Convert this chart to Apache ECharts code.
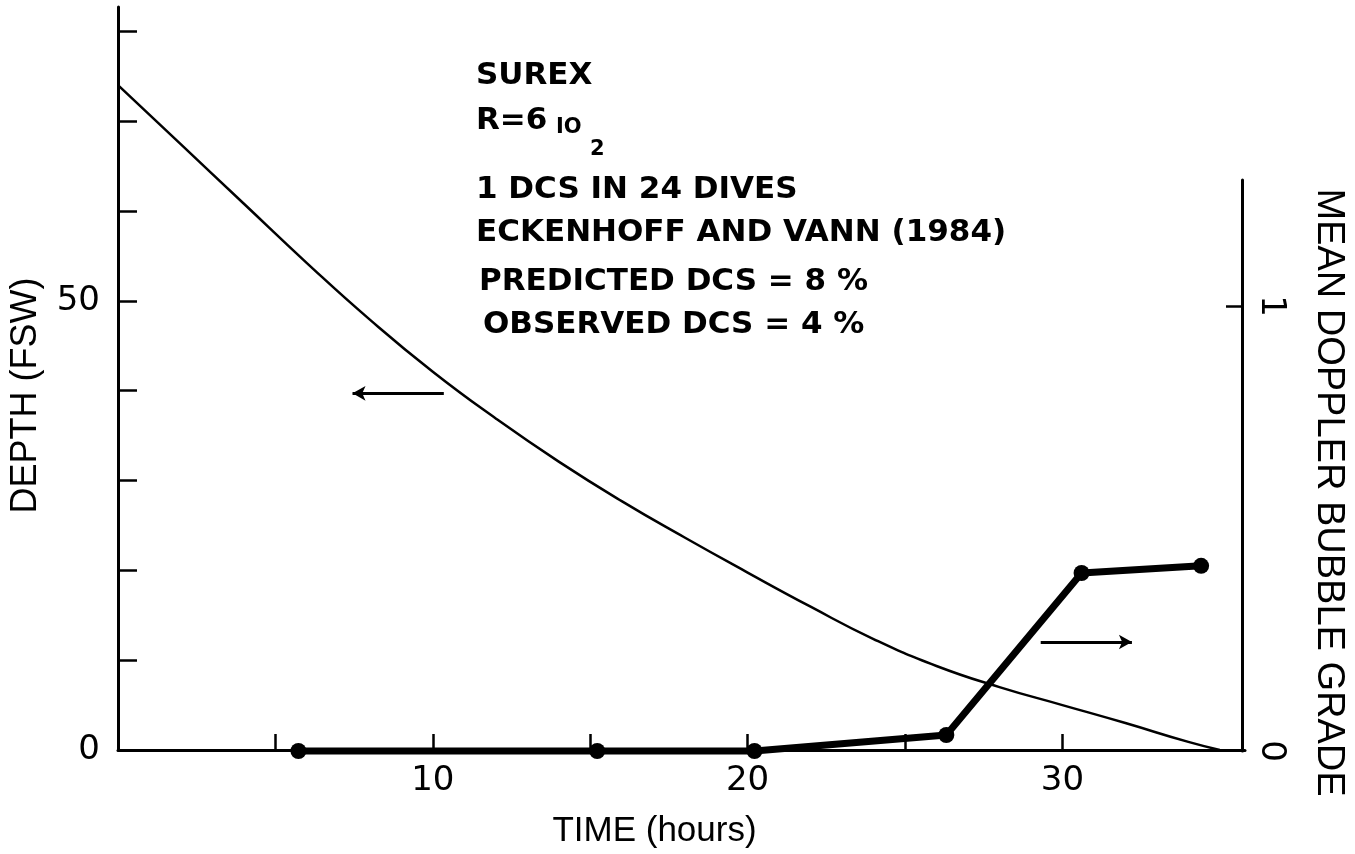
<!DOCTYPE html>
<html>
<head>
<meta charset="utf-8">
<script src="https://cdn.jsdelivr.net/npm/echarts@6/dist/echarts.min.js"></script>
<style>
  html, body { margin: 0; padding: 0; background: #fff; }
  #chart { width: 1355px; height: 854px; }
</style>
</head>
<body>
<div id="chart"></div>
<script>
// Decompression depth profile, feet of sea water (left axis)
const depthTime = [0, 2, 4, 6, 8, 10, 12, 14, 16, 18, 20, 22, 24, 26, 28, 30, 32, 34, 35];
const depthFsw  = [74, 67.4, 60.8, 54.2, 47.9, 42.1, 36.9, 32.1, 27.7, 23.65, 19.75, 15.95, 12.35, 9.35, 7.0, 5.0, 3.0, 0.9, 0];

// Mean Doppler bubble grade (right axis)
const bubbleTime  = [5.8, 15.3, 20.3, 26.4, 30.7, 34.5];
const bubbleGrade = [0, 0, 0, 0.036, 0.40, 0.416];

// Tick positions and labelled values
const timeTicks   = [5, 10, 15, 20, 25, 30];
const timeLabels  = [10, 20, 30];
const depthTicks  = [0, 10, 20, 30, 40, 50, 60, 70, 80];
const depthLabels = [0, 50];
const gradeTicks  = [1];
const gradeLabels = [0, 1];

// Direction arrows: which series reads on which axis
const depthArrow = [[10.35, 39.7], [7.45, 39.7]];
const gradeArrow = [[29.4, 0.245], [32.3, 0.245]];

// Annotation block
const noteLines = [
  'SUREX',
  'R=6',
  '1 DCS IN 24 DIVES',
  'ECKENHOFF AND VANN (1984)',
  'PREDICTED DCS = 8 %',
  'OBSERVED DCS = 4 %'
];
const noteSub = ['IO', '2'];

const INK = '#000';
const numFont = 'DejaVu Sans';
const nameFont = 'Liberation Sans';

const zip = (xs, ys) => xs.map((x, i) => [x, ys[i]]);

const chart = echarts.init(document.getElementById('chart'), null, { renderer: 'canvas' });

const noteY = [76, 121, 190, 233, 282, 325];
const noteX = [476, 476, 476, 476, 479, 483];
const noteFont = `bold 31px "${numFont}"`;
const graphic = noteLines.map((t, i) => ({
  type: 'text',
  x: noteX[i],
  y: noteY[i],
  style: { text: t, font: noteFont, fill: INK, verticalAlign: 'middle' }
}));
graphic.push({
  type: 'text', x: 556, y: 128,
  style: { text: noteSub[0], font: `bold 21px "${numFont}"`, fill: INK, verticalAlign: 'middle' }
});
graphic.push({
  type: 'text', x: 590, y: 150,
  style: { text: noteSub[1], font: `bold 21px "${numFont}"`, fill: INK, verticalAlign: 'middle' }
});

const axisLineStyle = { color: INK, width: 3 };

const option = {
  backgroundColor: '#fff',
  animation: false,
  graphic: graphic,
  grid: [
    { left: 116, right: 110, top: 7, bottom: 103 },
    { left: 116, right: 110, top: 180, bottom: 103 }
  ],
  xAxis: [
    {
      type: 'value', gridIndex: 0, min: 0, max: 35.8,
      name: 'TIME (hours)', nameLocation: 'middle', nameGap: 64,
      nameTextStyle: { fontFamily: nameFont, fontSize: 35, color: INK, padding: [0, 54, 0, 0] },
      axisLine: { show: true, lineStyle: axisLineStyle },
      axisTick: { show: true, inside: true, length: 16, customValues: timeTicks, lineStyle: { color: INK, width: 2.5 } },
      axisLabel: { show: true, customValues: timeLabels, margin: 14, fontFamily: numFont, fontSize: 34, color: INK },
      splitLine: { show: false }
    },
    {
      type: 'value', gridIndex: 1, min: 0, max: 35.8, show: false,
      splitLine: { show: false }
    }
  ],
  yAxis: [
    {
      type: 'value', gridIndex: 0, min: 0, max: 82.7, position: 'left',
      name: 'DEPTH (FSW)', nameLocation: 'middle', nameGap: 74,
      nameTextStyle: { fontFamily: nameFont, fontSize: 36, color: INK, padding: [0, 34, 0, 0] },
      axisLine: { show: true, onZero: false, lineStyle: axisLineStyle },
      axisTick: { show: true, inside: true, length: 19, customValues: depthTicks, lineStyle: { color: INK, width: 2.5 } },
      axisLabel: { show: true, customValues: depthLabels, margin: 18, fontFamily: numFont, fontSize: 34, color: INK },
      splitLine: { show: false }
    },
    {
      type: 'value', gridIndex: 1, min: 0, max: 1.283, position: 'right',
      name: 'MEAN DOPPLER BUBBLE GRADE', nameLocation: 'middle', nameGap: 67, nameRotate: -90,
      nameTextStyle: { fontFamily: nameFont, fontSize: 38, color: INK, padding: [0, 0, 0, 54] },
      axisLine: { show: true, onZero: false, lineStyle: axisLineStyle },
      axisTick: { show: true, inside: true, length: 16, customValues: gradeTicks, lineStyle: { color: INK, width: 2.5 } },
      axisLabel: { show: true, customValues: gradeLabels, rotate: -90, margin: 12, fontFamily: numFont, fontSize: 34, color: INK },
      splitLine: { show: false }
    }
  ],
  series: [
    {
      name: 'Depth',
      type: 'line',
      xAxisIndex: 0, yAxisIndex: 0,
      data: zip(depthTime, depthFsw),
      smooth: 0.5,
      showSymbol: false,
      clip: false,
      lineStyle: { color: INK, width: 2.5 },
      markLine: {
        silent: true, animation: false,
        symbol: ['none', 'arrow'], symbolSize: [11, 13],
        label: { show: false },
        lineStyle: { color: INK, width: 3, type: 'solid' },
        data: [[{ coord: depthArrow[0] }, { coord: depthArrow[1] }]]
      }
    },
    {
      name: 'Bubble grade',
      type: 'line',
      xAxisIndex: 1, yAxisIndex: 1,
      data: zip(bubbleTime, bubbleGrade),
      showSymbol: true,
      symbol: 'circle', symbolSize: 16,
      clip: false,
      itemStyle: { color: INK },
      lineStyle: { color: INK, width: 7 },
      markLine: {
        silent: true, animation: false,
        symbol: ['none', 'arrow'], symbolSize: [11, 13],
        label: { show: false },
        lineStyle: { color: INK, width: 3, type: 'solid' },
        data: [[{ coord: gradeArrow[0] }, { coord: gradeArrow[1] }]]
      }
    }
  ]
};

chart.setOption(option);
</script>
</body>
</html>
